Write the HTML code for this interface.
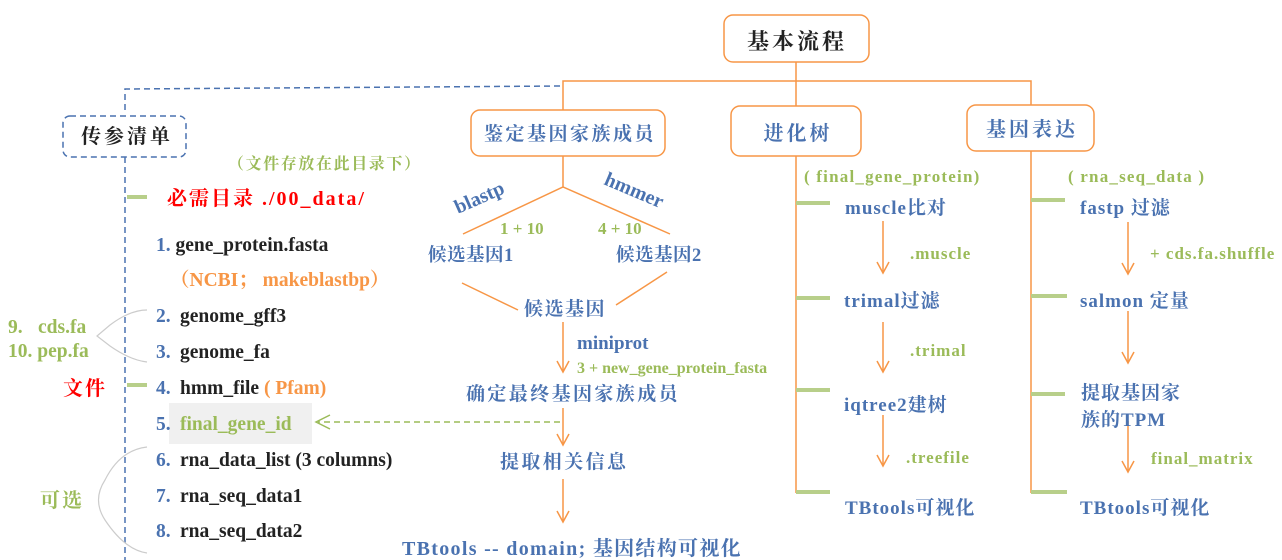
<!DOCTYPE html>
<html><head><meta charset="utf-8"><style>
body{margin:0;background:#fff;}
svg{display:block;}
text{font-family:"Liberation Serif","Noto Serif CJK SC",serif;font-weight:bold;}
.b{fill:#4a72b0;}
.g{fill:#9bbb59;}
.o{fill:#f79646;}
.k{fill:#222;}
.r{fill:#ff0000;}
</style></head><body>
<svg width="1282" height="560" viewBox="0 0 1282 560" xmlns="http://www.w3.org/2000/svg">
<defs>
<marker id="ah" markerWidth="16" markerHeight="16" refX="12" refY="7" orient="auto" markerUnits="userSpaceOnUse">
<path d="M1,1 L12,7 L1,13" fill="none" stroke="#f79646" stroke-width="1.5"/></marker>
</defs>
<rect x="724" y="15" width="145" height="47" rx="9" fill="#fff" stroke="#f79646" stroke-width="1.5"/>
<text x="797" y="49" font-size="22" text-anchor="middle" letter-spacing="3" class="k">基本流程</text>
<g stroke="#f79646" stroke-width="1.5" fill="none">
<line x1="796" y1="62" x2="796" y2="106"/>
<polyline points="563,110 563,81 1031,81 1031,105"/>
<rect x="471" y="110" width="194" height="46" rx="9"/>
<rect x="731" y="106" width="130" height="50" rx="9"/>
<rect x="967" y="105" width="127" height="46" rx="9"/>
<line x1="563" y1="156" x2="563" y2="187"/>
<polyline points="463,234 563,187 670,234"/>
<line x1="462" y1="283" x2="518" y2="310"/>
<line x1="616" y1="305" x2="667" y2="272"/>
<line x1="563" y1="322" x2="563" y2="372" marker-end="url(#ah)"/>
<line x1="563" y1="408" x2="563" y2="445" marker-end="url(#ah)"/>
<line x1="563" y1="479" x2="563" y2="522" marker-end="url(#ah)"/>
<line x1="796" y1="156" x2="796" y2="493"/>
<line x1="1031" y1="151" x2="1031" y2="493"/>
<line x1="883" y1="221" x2="883" y2="273" marker-end="url(#ah)"/>
<line x1="883" y1="322" x2="883" y2="372" marker-end="url(#ah)"/>
<line x1="883" y1="415" x2="883" y2="466" marker-end="url(#ah)"/>
<line x1="1128" y1="222" x2="1128" y2="274" marker-end="url(#ah)"/>
<line x1="1128" y1="311" x2="1128" y2="363" marker-end="url(#ah)"/>
<line x1="1128" y1="421" x2="1128" y2="472" marker-end="url(#ah)"/>
</g>
<text x="570" y="140" font-size="19" text-anchor="middle" letter-spacing="2.5" class="b">鉴定基因家族成员</text>
<text x="798" y="140" font-size="20" text-anchor="middle" letter-spacing="3" class="b">进化树</text>
<text x="1032" y="136" font-size="20" text-anchor="middle" letter-spacing="3" class="b">基因表达</text>
<g stroke="#b8cf8a" stroke-width="4">
<line x1="796" y1="203" x2="830" y2="203"/><line x1="796" y1="298" x2="830" y2="298"/>
<line x1="796" y1="390" x2="830" y2="390"/><line x1="796" y1="492" x2="830" y2="492"/>
<line x1="1031" y1="200" x2="1065" y2="200"/><line x1="1031" y1="296" x2="1067" y2="296"/>
<line x1="1031" y1="394" x2="1065" y2="394"/><line x1="1031" y1="492" x2="1067" y2="492"/>
<line x1="127" y1="197" x2="147" y2="197"/><line x1="127" y1="385" x2="147" y2="385"/>
</g>
<g stroke="#4a72b0" stroke-width="1.5" fill="none" stroke-dasharray="6,4">
<polyline points="125,110 125,89 563,86"/>
<rect x="63" y="116" width="123" height="41" rx="7"/>
<line x1="125" y1="157" x2="125" y2="560"/>
</g>
<text x="127" y="143" font-size="20" text-anchor="middle" letter-spacing="3" class="k">传参清单</text>
<text x="228" y="169" font-size="16" letter-spacing="1.6" class="g">（文件存放在此目录下）</text>
<text x="167" y="205" font-size="20" letter-spacing="2" class="r">必需目录 ./00_data/</text>
<rect x="169" y="403" width="143" height="41" fill="#f0f0f0"/>
<g font-size="19.5">
<text x="156" y="251"><tspan class="b">1. </tspan><tspan class="k">gene_protein.fasta</tspan></text>
<text x="170" y="286" class="o">（NCBI； makeblastbp）</text>
<text x="156" y="322"><tspan class="b">2.</tspan><tspan x="180" class="k">genome_gff3</tspan></text>
<text x="156" y="358"><tspan class="b">3.</tspan><tspan x="180" class="k">genome_fa</tspan></text>
<text x="156" y="394"><tspan class="b">4.</tspan><tspan x="180" class="k">hmm_file </tspan><tspan class="o">( Pfam)</tspan></text>
<text x="156" y="430"><tspan class="b">5.</tspan><tspan x="180" class="g">final_gene_id</tspan></text>
<text x="156" y="466"><tspan class="b">6.</tspan><tspan x="180" class="k">rna_data_list (3 columns)</tspan></text>
<text x="156" y="502"><tspan class="b">7.</tspan><tspan x="180" class="k">rna_seq_data1</tspan></text>
<text x="156" y="537"><tspan class="b">8.</tspan><tspan x="180" class="k">rna_seq_data2</tspan></text>
<text x="8" y="333" class="g">9.<tspan x="38">cds.fa</tspan></text>
<text x="8" y="357" class="g">10. pep.fa</text>
<text x="63" y="395" font-size="20" letter-spacing="2" class="r">文件</text>
<text x="40" y="507" font-size="20" letter-spacing="2" class="g">可选</text>
</g>
<g stroke="#ccc" stroke-width="1.2" fill="none">
<path d="M147,310 Q130,310 110,325 L97,336 L110,346 Q130,360 147,362"/>
<path d="M147,447 Q120,450 105,480 Q92,500 105,520 Q125,550 147,553"/>
</g>
<line x1="560" y1="422" x2="318" y2="422" stroke="#9bbb59" stroke-width="1.5" stroke-dasharray="6,4"/>
<polyline points="330,415 316,422 330,429" fill="none" stroke="#9bbb59" stroke-width="1.5"/>
<text transform="translate(458,214) rotate(-24)" font-size="20" class="b">blastp</text>
<text transform="translate(603,184) rotate(23)" font-size="20" class="b">hmmer</text>
<text x="500" y="234" font-size="17" class="g">1 + 10</text>
<text x="598" y="234" font-size="17" class="g">4 + 10</text>
<text x="428" y="261" font-size="18.5" letter-spacing="0.5" class="b">候选基因1</text>
<text x="616" y="261" font-size="18.5" letter-spacing="0.5" class="b">候选基因2</text>
<text x="524" y="315" font-size="19" letter-spacing="1.5" class="b">候选基因</text>
<text x="577" y="349" font-size="19" class="b">miniprot</text>
<text x="577" y="373" font-size="16" class="g">3 + new_gene_protein_fasta</text>
<text x="466" y="400" font-size="19" letter-spacing="2.4" class="b">确定最终基因家族成员</text>
<text x="500" y="468" font-size="19" letter-spacing="2.4" class="b">提取相关信息</text>
<text x="402" y="555" font-size="20" letter-spacing="1.3" class="b">TBtools  -- domain; 基因结构可视化</text>
<g font-size="19" letter-spacing="1">
<text x="804" y="182" font-size="17" letter-spacing="1.2" class="g">( final_gene_protein)</text>
<text x="845" y="214" class="b">muscle比对</text>
<text x="910" y="259" font-size="17" letter-spacing="1" class="g">.muscle</text>
<text x="844" y="307" class="b">trimal过滤</text>
<text x="910" y="356" font-size="17" letter-spacing="1" class="g">.trimal</text>
<text x="844" y="411" class="b">iqtree2建树</text>
<text x="906" y="463" font-size="17" letter-spacing="1" class="g">.treefile</text>
<text x="845" y="514" class="b">TBtools可视化</text>
<text x="1068" y="182" font-size="17" letter-spacing="1.2" class="g">( rna_seq_data )</text>
<text x="1080" y="214" class="b">fastp 过滤</text>
<text x="1150" y="259" font-size="17" letter-spacing="1" class="g">+ cds.fa.shuffle</text>
<text x="1080" y="307" class="b">salmon 定量</text>
<text x="1081" y="399" class="b">提取基因家</text>
<text x="1081" y="426" class="b">族的TPM</text>
<text x="1151" y="464" font-size="17" letter-spacing="1" class="g">final_matrix</text>
<text x="1080" y="514" class="b">TBtools可视化</text>
</g>
</svg>
</body></html>
